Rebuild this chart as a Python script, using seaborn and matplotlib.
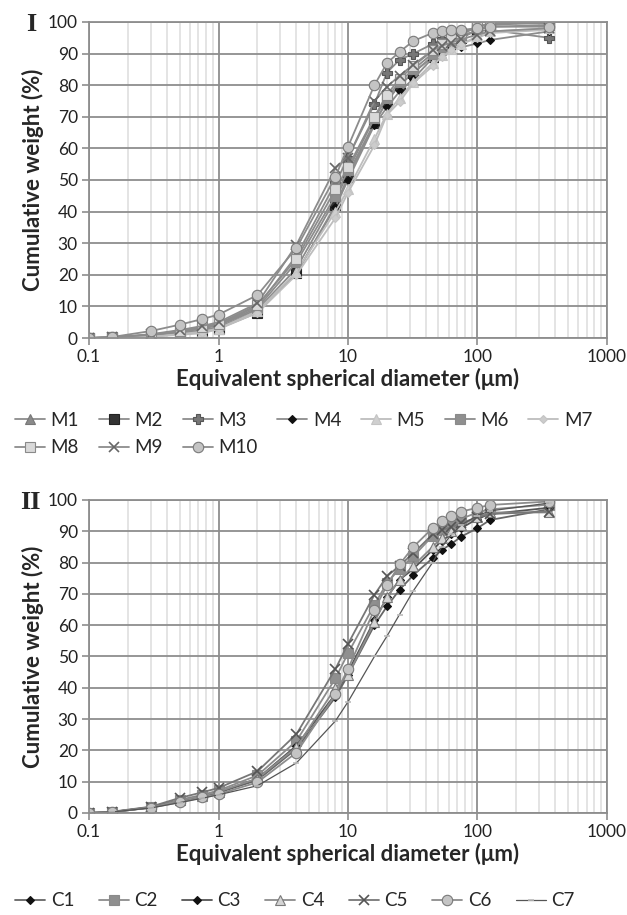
import matplotlib
matplotlib.use("Agg")
import matplotlib.pyplot as plt
import matplotlib.ticker as mticker
import numpy as np
import pandas as pd
import seaborn as sns

# particle sizes (um), same for every curve
diam = [0.1, 0.15, 0.3, 0.5, 0.75, 1, 2, 4, 8, 10, 16, 20, 25, 32, 45, 53, 63, 75, 100, 125, 355]

# panel I : M samples (cumulative weight %)
M1 = [0, 0.2, 0.8, 1.8, 3.0, 4.0, 9.0, 22, 44, 52, 68, 75, 80, 84, 89, 91.5, 93.5, 95, 97.5, 98.5, 99]
M2 = [0, 0.1, 0.5, 1.2, 2.0, 3.0, 8.0, 20.5, 42, 51, 68, 75, 80, 84, 89, 91.5, 93.5, 95, 97.5, 99, 100]
M3 = [0, 0.2, 1.0, 2.2, 3.4, 4.5, 10, 26, 49, 57, 74, 84, 88, 90, 93, 94.5, 95.5, 96, 97, 97.5, 95]
M4 = [0, 0.1, 0.6, 1.5, 2.5, 3.5, 8.5, 20.5, 41.5, 50, 67.4, 73, 78, 82, 88.6, 90, 91.4, 92, 93.2, 94.3, 97]
M5 = [0, 0.1, 0.5, 1.2, 2.0, 3.0, 8.5, 21, 40, 47, 63, 71, 76, 81, 87, 89.5, 91.5, 93, 95.5, 97, 98]
M6 = [0, 0.2, 0.9, 2.0, 3.2, 4.2, 9.5, 24, 45, 53, 69.5, 76, 81, 85, 90, 92, 94, 96, 98.5, 99.5, 100]
M7 = [0, 0.1, 0.4, 1.0, 1.5, 2.8, 8.0, 20, 38, 46, 61, 70.6, 74.7, 80.7, 86, 89, 91, 93, 95, 96.5, 97.5]
M8 = [0, 0.2, 1.0, 2.3, 3.5, 4.5, 10.5, 25, 47, 54, 70, 77, 82, 86, 91, 93, 95, 96.5, 98.5, 99.5, 99.5]
M9 = [0, 0.2, 1.2, 2.5, 3.8, 5.0, 11, 29.5, 53.8, 57, 75, 79.5, 83, 86.5, 91, 92.5, 93.5, 94.5, 96, 97, 98]
M10 = [0, 0.3, 2.2, 4.2, 6.0, 7.4, 13.6, 28.5, 51, 60.5, 80, 87, 90.5, 94, 96.5, 97, 97.3, 97.5, 98, 98.5, 98.5]

# panel II : C samples
C1 = [0, 0.3, 1.7, 3.8, 5.3, 6.5, 10.5, 20.5, 37, 44, 60, 66, 71.3, 76, 81.4, 84, 86, 88.3, 91, 93.6, 97]
C2 = [0, 0.3, 1.9, 4.2, 5.8, 7.2, 12, 23, 43, 51, 66.5, 73.5, 78, 82, 88.5, 90.5, 92.5, 94, 96, 97, 98.5]
C3 = [0, 0.3, 1.8, 3.9, 5.4, 6.6, 11, 21.5, 38, 45, 61.5, 68.9, 74.5, 78, 84, 87, 89, 91, 94, 95.5, 97.5]
C4 = [0, 0.3, 1.8, 4.0, 5.5, 6.8, 11, 21, 40, 44, 61, 68.9, 74.5, 79, 85, 88, 90, 92, 94.5, 96, 96]
C5 = [0, 0.4, 2.0, 4.8, 6.6, 8.0, 13.3, 25.2, 46, 54, 69.7, 75.6, 79, 83, 89, 90.4, 91.3, 92.6, 94.5, 95.5, 96.3]
C6 = [0, 0.3, 1.7, 3.4, 5.0, 6.0, 9.8, 19.3, 37.9, 46, 65, 72.7, 79.4, 85, 91, 93.3, 95, 96.3, 97.5, 98.4, 99.5]
C7 = [0, 0.3, 1.6, 3.3, 4.7, 5.8, 8.7, 16, 29.4, 35.5, 50, 56.5, 63.4, 71, 80, 85, 89, 92, 95, 96.5, 99]

m_names = ["M1", "M2", "M3", "M4", "M5", "M6", "M7", "M8", "M9", "M10"]
m_data = [M1, M2, M3, M4, M5, M6, M7, M8, M9, M10]
c_names = ["C1", "C2", "C3", "C4", "C5", "C6", "C7"]
c_data = [C1, C2, C3, C4, C5, C6, C7]

# marker styles: (marker, face, edge, line colour, size)
m_style = {
    "M1": ("^", "#8a8a8a", "#777777", "#8c8c8c", 6.5),
    "M2": ("s", "#333333", "#222222", "#8c8c8c", 6.5),
    "M3": ("P", "#777777", "#555555", "#8c8c8c", 7),
    "M4": ("D", "#111111", "#111111", "#8c8c8c", 4.5),
    "M5": ("^", "#cfcfcf", "#c4c4c4", "#bdbdbd", 6.5),
    "M6": ("s", "#8f8f8f", "#8a8a8a", "#8c8c8c", 7.5),
    "M7": ("D", "#cccccc", "#c4c4c4", "#bdbdbd", 4.5),
    "M8": ("s", "#d9d9d9", "#8a8a8a", "#8c8c8c", 7),
    "M9": ("x", "#666666", "#666666", "#8c8c8c", 7.5),
    "M10": ("o", "#c4c4c4", "#7a7a7a", "#8c8c8c", 7.5),
}
c_style = {
    "C1": ("D", "#111111", "#111111", "#666666", 4.5),
    "C2": ("s", "#8f8f8f", "#8a8a8a", "#8c8c8c", 6.5),
    "C3": ("D", "#111111", "#111111", "#555555", 4.5),
    "C4": ("^", "#d4d4d4", "#7a7a7a", "#8c8c8c", 6.5),
    "C5": ("x", "#555555", "#555555", "#777777", 7.5),
    "C6": ("o", "#c4c4c4", "#7a7a7a", "#8c8c8c", 7.5),
    "C7": ("_", "#bbbbbb", "#bbbbbb", "#555555", 5),
}

sns.set_style("white")
plt.rcParams["font.family"] = ["Lato", "DejaVu Sans"]


def draw_panel(ax, names, data, style):
    handles = {}
    for name, vals in zip(names, data):
        mk, fc, ec, lc, ms = style[name]
        lw = 0.9 if name == "C7" else 1.3
        sns.lineplot(x=diam, y=vals, ax=ax, color=lc, lw=lw, marker=mk,
                     markerfacecolor=fc, markeredgecolor=ec, markersize=ms,
                     markeredgewidth=1.2 if mk in ("x", "_") else 0.8,
                     label=name, legend=False, estimator=None)
        handles[name] = ax.get_lines()[-1]
    ax.set_xscale("log")
    ax.set_xlim(0.1, 1000)
    ax.set_ylim(0, 100)
    ax.set_yticks(np.arange(0, 101, 10))
    ax.xaxis.set_major_locator(mticker.FixedLocator([0.1, 1, 10, 100, 1000]))
    ax.xaxis.set_major_formatter(mticker.FixedFormatter(["0.1", "1", "10", "100", "1000"]))
    ax.xaxis.set_minor_locator(mticker.LogLocator(base=10, subs=np.arange(2, 10)))
    ax.xaxis.set_minor_formatter(mticker.NullFormatter())
    ax.grid(which="major", color="#8e8e8e", lw=1.3, zorder=0)
    ax.grid(which="minor", axis="x", color="#dcdcdc", lw=1.1, zorder=0)
    ax.set_axisbelow(True)
    for sp in ax.spines.values():
        sp.set_color("#8e8e8e")
        sp.set_linewidth(1.3)
    ax.tick_params(which="major", direction="out", length=5, width=1.2, color="#8e8e8e",
                   labelsize=12.5, pad=3, bottom=True, left=True, labelcolor="#222222")
    ax.tick_params(which="minor", length=0)
    ax.set_ylabel("Cumulative weight (%)", fontsize=16, fontweight="bold", labelpad=3)
    ax.set_xlabel("Equivalent spherical diameter (\u03bcm)", fontsize=16, fontweight="bold",
                  labelpad=2)
    return handles


fig = plt.figure(figsize=(6.27, 9.15), dpi=100)
ax1 = fig.add_axes([0.142, 0.6306, 0.826, 0.3454])
ax2 = fig.add_axes([0.142, 0.1115, 0.826, 0.3421])

h1 = draw_panel(ax1, m_names, m_data, m_style)
h2 = draw_panel(ax2, c_names, c_data, c_style)

fig.text(0.042, 0.973, "I", fontsize=19, fontweight="bold", family="Liberation Serif",
         ha="left", va="center")
fig.text(0.032, 0.451, "II", fontsize=19, fontweight="bold", family="Liberation Serif",
         ha="left", va="center")

# legend I is filled column-wise, so reorder to read row by row
order1 = ["M1", "M8", "M2", "M9", "M3", "M10", "M4", "M5", "M6", "M7"]
fig.legend([h1[n] for n in order1], order1, loc="upper left", bbox_to_anchor=(0.012, 0.558),
           ncol=7, frameon=False, fontsize=13.5, handlelength=1.6, handletextpad=0.3,
           columnspacing=1.05, labelspacing=0.55, borderaxespad=0)
fig.legend([h2[n] for n in c_names], c_names, loc="upper left", bbox_to_anchor=(0.012, 0.033),
           ncol=7, frameon=False, fontsize=13.5, handlelength=1.6, handletextpad=0.3,
           columnspacing=1.3, borderaxespad=0)

fig.savefig("out.png", dpi=100)
